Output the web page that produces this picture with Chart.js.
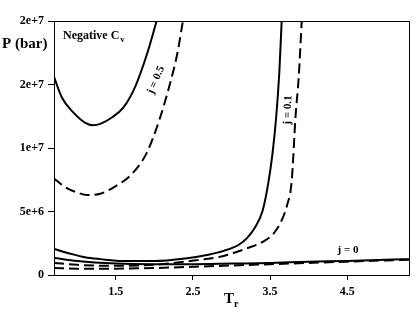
<!DOCTYPE html>
<html>
<head>
<meta charset="utf-8">
<script src="https://cdn.jsdelivr.net/npm/chart.js@4.4.1/dist/chart.umd.min.js"></script>
<style>
  html,body{margin:0;padding:0;background:#fff;}
  #wrap{width:420px;height:313px;position:relative;}
</style>
</head>
<body>
<div id="wrap"><canvas id="c" width="420" height="313"></canvas></div>
<script>
// ---- data (P in units of 1e6 bar) ----
const T_j05_solid = [0.7, 0.8, 0.95, 1.1, 1.2, 1.3, 1.45, 1.6, 1.75, 1.9, 2.03];
const P_j05_solid = [15.6, 14.0, 12.8, 12.0, 11.8, 11.9, 12.4, 13.2, 14.8, 17.3, 20.0];

const T_j05_dash = [0.7, 0.85, 1.0, 1.13, 1.3, 1.5, 1.7, 1.9, 2.07, 2.2, 2.3, 2.37];
const P_j05_dash = [7.6, 6.9, 6.5, 6.3, 6.4, 7.0, 7.9, 9.6, 12.3, 15.0, 17.5, 20.0];

const T_j01_solid = [0.7, 0.9, 1.1, 1.3, 1.6, 2.0, 2.4, 2.7, 2.9, 3.1, 3.2, 3.3, 3.4, 3.47, 3.53, 3.58, 3.62, 3.65];
const P_j01_solid = [2.05, 1.7, 1.4, 1.25, 1.1, 1.1, 1.3, 1.6, 1.9, 2.4, 2.9, 3.7, 5.0, 7.0, 9.5, 12.5, 16.0, 20.0];

const T_j01_dash = [0.7, 1.0, 1.5, 2.0, 2.3, 2.6, 2.9, 3.2, 3.4, 3.55, 3.65, 3.72, 3.78, 3.83, 3.87, 3.91];
const P_j01_dash = [0.95, 0.8, 0.72, 0.8, 0.98, 1.2, 1.5, 2.1, 2.6, 3.3, 4.3, 5.5, 7.4, 12.5, 15.5, 20.0];

const T_j0 = [0.7, 1.0, 1.5, 2.0, 2.5, 3.0, 3.5, 4.0, 4.5, 5.0, 5.3];
const P_j0_solid = [1.35, 1.1, 0.9, 0.85, 0.85, 0.9, 0.95, 1.05, 1.1, 1.2, 1.25];
const P_j0_dash  = [0.55, 0.5, 0.5, 0.55, 0.65, 0.75, 0.85, 0.95, 1.05, 1.15, 1.2];

const xTickValues = [1.5, 2.5, 3.5, 4.5];
const yTickValues = [0, 5e6, 1e7, 1.5e7, 2e7];
const yTickLabels = ['0', '5e+6', '1e+7', '2e+7', '2e+7'];

const SCALE = 1e6;
function pts(T, P){ return T.map((t,i)=>({x:t, y:P[i]*SCALE})); }

const SERIF = '"Liberation Serif", "Times New Roman", serif';

function ds(T, P, dashed){
  return {
    data: pts(T, P),
    borderColor: '#000',
    borderWidth: 2,
    borderDash: dashed ? [10,5] : [],
    pointRadius: 0,
    showLine: true,
    fill: false,
    cubicInterpolationMode: 'monotone'
  };
}

const decor = {
  id: 'decor',
  afterDraw(chart){
    const ctx = chart.ctx;
    const a = chart.chartArea;
    ctx.save();
    // frame
    ctx.strokeStyle = '#000';
    ctx.lineWidth = 1;
    ctx.strokeRect(Math.round(a.left)+0.5, Math.round(a.top)+0.5, Math.round(a.right-a.left), Math.round(a.bottom-a.top));
    ctx.fillStyle = '#000';
    ctx.textBaseline = 'alphabetic';
    // y title
    ctx.font = 'bold 15px ' + SERIF;
    ctx.textAlign = 'left';
    ctx.fillText('P (bar)', 2, 48);
    // x title
    ctx.font = 'bold 15px ' + SERIF;
    ctx.fillText('T', 224, 303);
    ctx.font = 'bold 10px ' + SERIF;
    ctx.fillText('r', 234, 307);
    // Negative Cv
    ctx.font = 'bold 12px ' + SERIF;
    ctx.fillText('Negative C', 63, 39);
    const w = ctx.measureText('Negative C').width;
    ctx.font = 'bold 9px ' + SERIF;
    ctx.fillText('v', 63 + w + 1, 42);
    // curve labels
    ctx.font = 'bold 11px ' + SERIF;
    ctx.textAlign = 'center';
    ctx.textBaseline = 'middle';
    ctx.save();
    ctx.translate(156, 80);
    ctx.rotate(-67 * Math.PI/180);
    ctx.fillText('j = 0.5', 0, 0);
    ctx.restore();
    ctx.save();
    ctx.translate(288, 110);
    ctx.rotate(-88 * Math.PI/180);
    ctx.fillText('j = 0.1', 0, 0);
    ctx.restore();
    ctx.fillText('j = 0', 348, 250);
    ctx.restore();
  }
};

new Chart(document.getElementById('c'), {
  type: 'scatter',
  data: {
    datasets: [
      ds(T_j05_solid, P_j05_solid, false),
      ds(T_j05_dash, P_j05_dash, true),
      ds(T_j01_solid, P_j01_solid, false),
      ds(T_j01_dash, P_j01_dash, true),
      ds(T_j0, P_j0_solid, false),
      ds(T_j0, P_j0_dash, true)
    ]
  },
  options: {
    responsive: false,
    animation: false,
    devicePixelRatio: 1,
    layout: { padding: { left: 0, top: 21, right: 11, bottom: 0 } },
    plugins: { legend: { display: false }, tooltip: { enabled: false } },
    scales: {
      x: {
        type: 'linear',
        min: 0.7, max: 5.3,
        afterBuildTicks(scale){ scale.ticks = xTickValues.map(v=>({value:v})); },
        afterFit(scale){ scale.height = 38; },
        ticks: { color: '#000', font: { family: SERIF, size: 12, weight: 'bold' }, padding: 5,
                 callback: v => v.toFixed(1), maxRotation: 0 },
        grid: { drawOnChartArea: false, drawTicks: true, tickLength: 5, color: '#000' },
        border: { display: true, color: '#000', width: 1 }
      },
      y: {
        type: 'linear',
        min: 0, max: 2e7,
        afterBuildTicks(scale){ scale.ticks = yTickValues.map(v=>({value:v})); },
        afterFit(scale){ scale.width = 54; },
        ticks: { color: '#000', font: { family: SERIF, size: 12, weight: 'bold' }, padding: 4,
                 callback: (v) => { const i = yTickValues.indexOf(v); return i >= 0 ? yTickLabels[i] : ''; } },
        grid: { drawOnChartArea: false, drawTicks: true, tickLength: 6, color: '#000' },
        border: { display: true, color: '#000', width: 1 }
      }
    }
  },
  plugins: [decor]
});
</script>
</body>
</html>
